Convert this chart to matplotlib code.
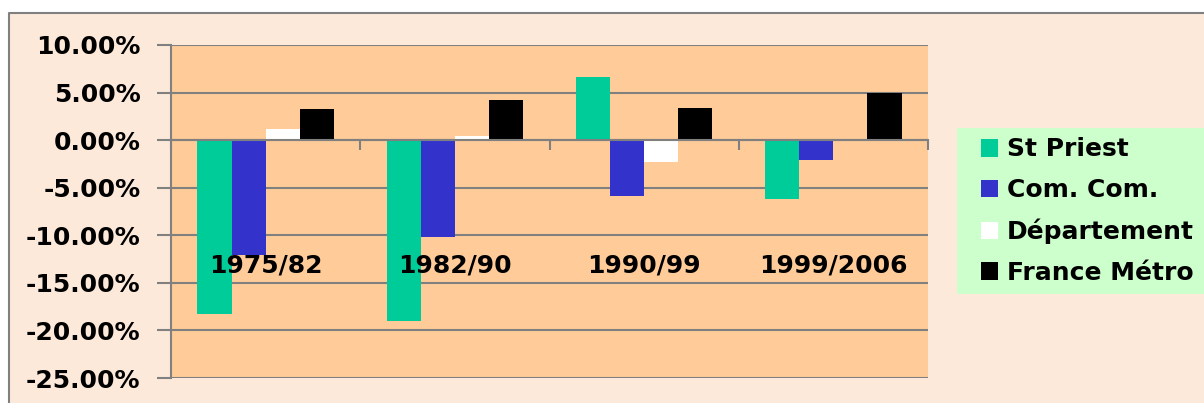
import matplotlib
matplotlib.use("Agg")
import matplotlib.pyplot as plt
from matplotlib.patches import Rectangle, Patch
from matplotlib.lines import Line2D
import numpy as np

periods = ["1975/82", "1982/90", "1990/99", "1999/2006"]
series_names = ["St Priest", "Com. Com.", "Département", "France Métro"]
st_priest = [-18.3, -19.0, 6.6, -6.2]
com_com = [-12.1, -10.2, -5.9, -2.1]
departement = [1.15, 0.4, -2.25, 0.0]
france_metro = [3.3, 4.2, 3.35, 4.95]
colors = ["#00CC99", "#3333CC", "#FFFFFF", "#000000"]
yticks = [10, 5, 0, -5, -10, -15, -20, -25]

plt.rcParams["font.family"] = "DejaVu Sans"
plt.rcParams["font.weight"] = "bold"

W, H = 1204, 403
fig = plt.figure(figsize=(W / 100, H / 100), dpi=100, facecolor="white")

# chart area background and its grey border (cut off at right/bottom)
fig.patches.append(Rectangle((9 / W, 0), 1, 1 - 13 / H, transform=fig.transFigure,
                             facecolor="#FCE9DA", edgecolor="none", zorder=-10))
fig.lines.append(Line2D([9 / W, 9 / W, 1], [0, 1 - 13 / H, 1 - 13 / H],
                        transform=fig.transFigure, color="#808080", lw=1.5))

ax = fig.add_axes([171 / W, 25 / H, (928 - 171) / W, (378 - 45) / H])
ax.set_facecolor("#FFCC99")

x = np.arange(len(periods))
w = 0.18
all_series = [st_priest, com_com, departement, france_metro]
for i, (vals, c) in enumerate(zip(all_series, colors)):
    ax.bar(x + (i - 1.5) * w, vals, width=w, color=c, edgecolor="none", zorder=3)

ax.set_xlim(-0.5, len(periods) - 0.5)
ax.set_ylim(-25, 10)
ax.set_yticks(yticks)
ax.set_yticklabels([f"{v:.2f}%" for v in yticks], fontsize=18, fontweight="bold")
ax.yaxis.grid(True, color="#808080", lw=1.5, zorder=1)
ax.tick_params(axis="y", length=10, width=1.5, color="#808080", pad=12)

for s in ["top", "right"]:
    ax.spines[s].set_visible(False)
ax.spines["left"].set_color("#808080")
ax.spines["left"].set_linewidth(1.5)
ax.spines["bottom"].set_position(("data", 0))
ax.spines["bottom"].set_color("#808080")
ax.spines["bottom"].set_linewidth(1.5)
ax.spines["bottom"].set_zorder(4)
ax.set_xticks(np.arange(len(periods) + 1) - 0.5)
ax.set_xticklabels([])
ax.tick_params(axis="x", length=7, width=1.5, color="#808080", direction="out")

for xi, lab in zip(x, periods):
    ax.text(xi, -13.2, lab, ha="center", va="center", fontsize=18,
            fontweight="bold", zorder=5)

# legend
fig.patches.append(Rectangle((957 / W, 1 - 294 / H), 1, (294 - 128) / H,
                             transform=fig.transFigure, facecolor="#CCFFCC",
                             edgecolor="none", zorder=-5))
handles = [Patch(facecolor=c, edgecolor="none") for c in colors]
fig.legend(handles, series_names, loc="upper left",
           bbox_to_anchor=(968 / W, 1 - 125 / H), frameon=False,
           prop={"size": 18, "weight": "bold"}, handlelength=0.7,
           handleheight=0.7, handletextpad=0.35, labelspacing=0.66, borderpad=0)

fig.savefig("out.png", dpi=100, facecolor=fig.get_facecolor())
